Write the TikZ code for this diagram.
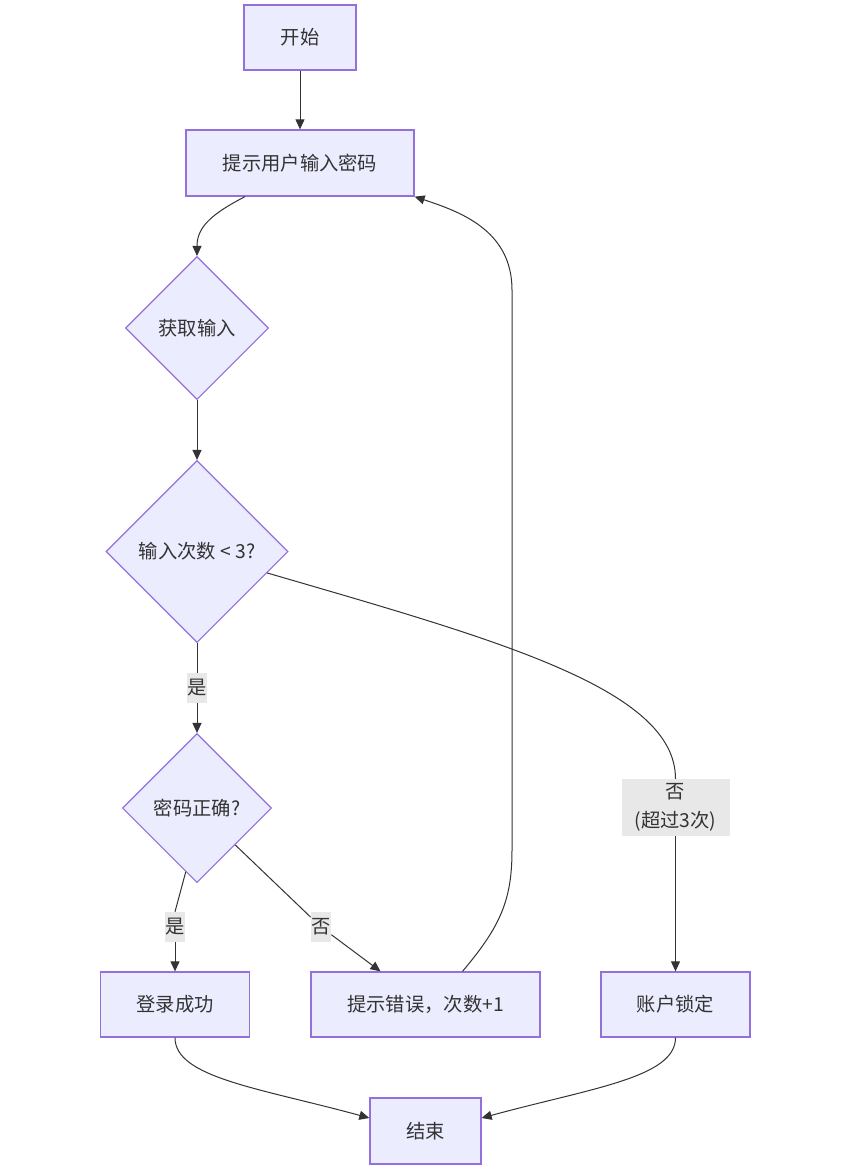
\documentclass[tikz,border=0pt]{standalone}
\usepackage{fontspec}
\setmainfont{Noto Sans CJK SC}
\usetikzlibrary{shapes.geometric,arrows.meta}
\definecolor{nodefill}{HTML}{ECECFF}
\definecolor{nodeline}{HTML}{9370DB}
\definecolor{edgecol}{HTML}{333333}
\definecolor{lblbg}{HTML}{E8E8E8}
\begin{document}
\begin{tikzpicture}[x=1pt,y=-1pt,
  every node/.style={font=\fontsize{19.3}{29}\selectfont, text=edgecol},
  box/.style={draw=nodeline, fill=nodefill, line width=1.3pt, inner sep=0pt},
  dia/.style={draw=nodeline, fill=nodefill, line width=1.1pt, diamond, aspect=1, inner sep=0pt},
  lbl/.style={fill=lblbg, inner xsep=0.5pt, inner ysep=0pt, minimum height=30pt},
  conn/.style={draw=edgecol, line width=1pt, -{Triangle[length=10pt,width=9pt]}},
  plainln/.style={draw=edgecol, line width=1pt}
]
\useasboundingbox[fill=white] (0,0) rectangle (841,1174);

% nodes
\node[box, minimum width=112pt, minimum height=65pt] (start) at (300,37.5) {开始};
\node[box, minimum width=228pt, minimum height=66pt] (prompt) at (300,163) {提示用户输入密码};
\node[dia, minimum width=143pt, minimum height=143pt] (get) at (197,328) {获取输入};
\node[dia, minimum width=182pt, minimum height=182pt] (cnt) at (197,551.5) {输入次数 < 3?};
\node[dia, minimum width=149pt, minimum height=149pt] (pwd) at (197,808) {密码正确?};
\node[box, minimum width=149pt, minimum height=65pt] (login) at (175,1004.5) {登录成功};
\node[box, minimum width=229pt, minimum height=65pt] (err) at (425.5,1004.5) {提示错误，次数+1};
\node[box, minimum width=149pt, minimum height=65pt] (lock) at (675.5,1004.5) {账户锁定};
\node[box, minimum width=111pt, minimum height=66pt] (fin) at (425.5,1131) {结束};

% edge labels
\node[lbl] (yes1) at (197,688) {是};
\node[lbl, align=center, minimum width=108pt, minimum height=57pt] (no1) at (675.5,807.5) {否\\(超过3次)};
\node[lbl] (yes2) at (175,927) {是};
\node[lbl] (no2) at (321,927) {否};

% helper coordinates for the loop back
\coordinate (r1) at (512,850);
\coordinate (r2) at (512,290);

% edges
\draw[conn] (start) -- (prompt);
\draw[conn] ([xshift=-55pt]prompt.south) .. controls +(-35,18) and +(0,-28) .. (get.north);
\draw[conn] (get) -- (cnt);
\draw[plainln] (cnt.south) -- (yes1.north);
\draw[conn] (yes1.south) -- (pwd.north);
\draw[plainln] (cnt.-17) .. controls +(230,67) and +(0,-90) .. (no1.north);
\draw[conn] (no1.south) -- (lock.north);
\draw[plainln] (pwd.-100) -- (yes2.north);
\draw[conn] (yes2.south) -- (login.north);
\draw[plainln] (pwd.-44) -- (no2);
\draw[conn] (no2) -- ([xshift=-45pt]err.north);
\draw[conn] ([xshift=37pt]err.north) .. controls +(38,-45) and +(0,50) .. (r1) -- (r2) .. controls +(0,-60) and +(45,15) .. (prompt.south east);
\draw[conn] (login.south) .. controls +(0,40) and +(-110,-30) .. ([yshift=13pt]fin.west);
\draw[conn] (lock.south) .. controls +(0,40) and +(110,-30) .. ([yshift=13pt]fin.east);
\end{tikzpicture}
\end{document}
